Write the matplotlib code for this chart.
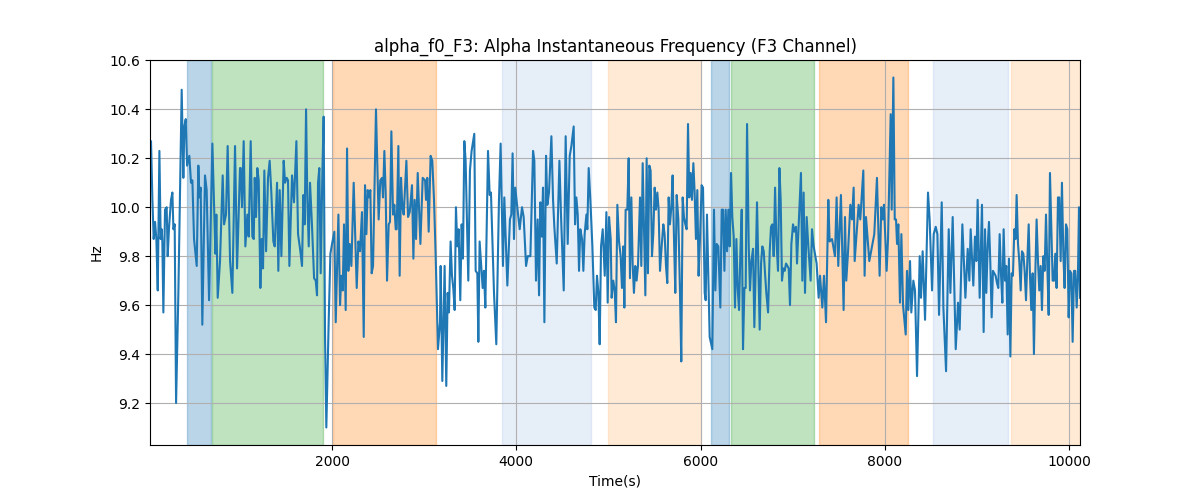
import numpy as np
import matplotlib
matplotlib.use("Agg")
import matplotlib.pyplot as plt

# time (s) and instantaneous alpha frequency (Hz)
time_s = [
    24, 35, 50, 64, 79, 93, 108, 126, 140, 151, 158, 169, 187, 205, 216, 231, 252, 267, 278, 292,
    307, 332, 368, 386, 397, 412, 426, 451, 469, 484, 502, 531, 549, 560, 574, 592, 621, 639, 665, 701,
    723, 734, 744, 759, 784, 813, 828, 849, 867, 893, 918, 947, 969,
    1001, 1009, 1023, 1041, 1059, 1081, 1095, 1117, 1135, 1150, 1161, 1175, 1189, 1204, 1222, 1236, 1251, 1265, 1284, 1305,
    1323, 1341, 1363, 1378, 1403, 1417, 1432, 1450, 1475, 1490, 1508, 1522, 1537, 1566, 1587, 1613, 1631, 1653, 1674, 1689,
    1703, 1718, 1732, 1747, 1761, 1783, 1805, 1823, 1837, 1848, 1862, 1877, 1895, 1909, 1924, 1938, 1964, 1982,
    2000, 2025, 2040, 2069, 2087, 2101, 2116, 2130, 2148, 2163, 2177, 2192, 2210, 2235, 2268, 2286, 2304, 2325, 2344, 2358,
    2373, 2387, 2401, 2416, 2430, 2445, 2477, 2506, 2524, 2543, 2553, 2568, 2582, 2597, 2615, 2629, 2644, 2662, 2676, 2691,
    2702, 2720, 2734, 2749, 2763, 2778, 2807, 2825, 2843, 2868, 2883, 2897, 2912, 2930, 2959, 2984,
    3010, 3020, 3034, 3049, 3070, 3088, 3107, 3125, 3150, 3172, 3179, 3197, 3222, 3240, 3255, 3269, 3287, 3302, 3316, 3331,
    3345, 3360, 3374, 3392, 3407, 3421, 3436, 3450, 3479, 3497, 3515, 3544, 3559, 3577, 3588, 3602, 3620, 3635, 3649, 3664,
    3693, 3711, 3725, 3758, 3783, 3812, 3830, 3855, 3870, 3903, 3931, 3946, 3960, 3975, 3989,
    4008, 4037, 4062, 4080, 4106, 4124, 4153, 4182, 4196, 4214, 4232, 4247, 4261, 4276, 4290, 4305, 4323, 4337, 4355, 4381,
    4399, 4413, 4439, 4468, 4486, 4515, 4536, 4558, 4580, 4598, 4623, 4638, 4652, 4667, 4681, 4695, 4714, 4728, 4742, 4761,
    4771, 4786, 4804, 4826, 4847, 4862, 4876, 4891, 4905, 4920, 4938, 4960, 4978, 4992, 5007,
    5025, 5035, 5053, 5068, 5082, 5097, 5115, 5133, 5147, 5162, 5173, 5187, 5205, 5220, 5234, 5249, 5263, 5277, 5292, 5306,
    5321, 5343, 5357, 5372, 5386, 5401, 5415, 5429, 5444, 5458, 5473, 5487, 5502, 5516, 5531, 5545, 5560, 5578, 5596, 5610,
    5625, 5639, 5654, 5668, 5683, 5697, 5712, 5726, 5741, 5759, 5777, 5791, 5806, 5820, 5835, 5849, 5864, 5878, 5893, 5907,
    5922, 5936, 5950, 5965, 5979, 5994, 6012,
    6027, 6045, 6056, 6070, 6085, 6099, 6128, 6146, 6161, 6175, 6193, 6215, 6230, 6244, 6259, 6273, 6288, 6302, 6316, 6331,
    6345, 6360, 6374, 6389, 6403, 6418, 6432, 6447, 6461, 6476, 6490, 6505, 6523, 6537, 6552, 6570, 6584, 6599, 6613, 6628,
    6642, 6657, 6671, 6686, 6700, 6714, 6733, 6751, 6765, 6780, 6794, 6809, 6823, 6841, 6856, 6870, 6884, 6899, 6913, 6928,
    6942, 6957, 6971, 6986, 7004, 7018,
    7036, 7047, 7090, 7105, 7119, 7134, 7152, 7170, 7195, 7210, 7228, 7246, 7260, 7282, 7297, 7322, 7340, 7362, 7387, 7401,
    7427, 7459, 7477, 7495, 7524, 7553, 7568, 7582, 7600, 7626, 7644, 7662, 7673, 7716, 7734, 7767, 7781, 7796, 7832, 7861,
    7886, 7915, 7944, 7962, 7977, 7991, 8020, 8035,
    8064, 8075, 8093, 8108, 8122, 8133, 8147, 8165, 8180, 8198, 8227, 8241, 8256, 8274, 8288, 8310, 8328, 8350, 8379, 8393,
    8411, 8437, 8469, 8487, 8513, 8531, 8553, 8571, 8589, 8618, 8636, 8665, 8694, 8712, 8737, 8770, 8795, 8813, 8842, 8875,
    8900, 8918, 8932, 8961, 8979, 8994, 9008, 9030,
    9055, 9073, 9088, 9102, 9117, 9131, 9145, 9160, 9174, 9189, 9203, 9218, 9232, 9247, 9261, 9276, 9290, 9305, 9319, 9334,
    9348, 9363, 9377, 9391, 9406, 9420, 9431, 9446, 9460, 9475, 9489, 9504, 9518, 9533, 9547, 9562, 9576, 9590, 9605, 9619,
    9634, 9648, 9663, 9677, 9692, 9706, 9721, 9735, 9750, 9764, 9779, 9793, 9808, 9822, 9837, 9851, 9865, 9880, 9894, 9909,
    9923, 9938, 9952, 9967, 9981, 9996, 10010, 10025, 10039, 10054, 10068, 10083, 10097, 10108, 10119,
]

freq_hz = [
    10.26, 10.27, 10.03, 9.87, 9.94, 9.87, 9.66, 10.23, 9.87, 9.91, 9.86, 9.57, 9.99, 10.00, 9.80, 9.92, 10.03, 10.06, 9.91, 9.93,
    9.20, 9.65, 10.48, 10.12, 10.33, 10.36, 10.17, 10.21, 10.10, 10.11, 9.87, 9.76, 10.17, 10.04, 10.08, 9.52, 10.13, 10.07, 9.62, 10.26,
    9.97, 9.81, 9.97, 9.63, 9.78, 10.13, 9.93, 9.97, 10.25, 9.78, 9.65, 10.25, 9.75,
    10.16, 10.16, 10.00, 10.27, 9.84, 9.97, 9.88, 10.27, 9.88, 9.87, 10.12, 9.96, 10.16, 10.11, 9.67, 9.87, 9.75, 10.15, 9.82, 10.12,
    10.19, 10.06, 9.86, 9.84, 10.10, 9.74, 10.07, 9.80, 10.19, 10.10, 10.12, 10.11, 9.76, 10.13, 10.02, 10.27, 9.89, 9.83, 9.76, 10.05,
    9.93, 10.40, 10.03, 9.84, 10.10, 9.92, 9.71, 9.70, 9.64, 10.10, 10.16, 9.73, 10.14, 10.37, 9.47, 9.10, 9.54, 9.81,
    9.85, 9.90, 9.53, 9.97, 9.60, 9.72, 9.66, 9.93, 9.58, 10.24, 9.74, 9.85, 9.76, 10.10, 9.67, 9.86, 9.82, 9.98, 9.47, 10.09,
    9.89, 10.07, 10.04, 10.07, 9.73, 9.76, 10.40, 9.95, 10.11, 10.12, 10.04, 10.23, 10.06, 9.70, 9.93, 9.94, 10.31, 9.97, 10.01, 9.91,
    9.91, 10.25, 9.72, 10.12, 10.00, 9.97, 10.19, 9.96, 9.98, 10.09, 9.79, 10.03, 9.87, 10.14, 9.85, 10.12,
    10.11, 10.03, 10.12, 9.90, 10.21, 10.19, 10.03, 9.80, 9.42, 9.53, 9.76, 9.29, 9.76, 9.27, 9.65, 9.57, 9.86, 9.72, 9.67, 9.58,
    10.00, 9.84, 9.91, 9.62, 9.93, 9.79, 10.27, 10.19, 9.70, 10.15, 10.23, 10.30, 9.74, 9.73, 9.45, 9.86, 9.76, 9.67, 9.74, 9.59,
    10.23, 10.05, 10.06, 9.65, 9.44, 10.03, 10.26, 9.76, 10.04, 9.68, 9.95, 9.97, 10.22, 9.87, 10.08,
    10.01, 9.91, 10.00, 9.96, 9.76, 9.80, 9.80, 10.23, 10.19, 9.70, 9.95, 9.64, 10.02, 9.88, 10.08, 9.53, 10.21, 10.01, 10.06, 10.29,
    10.03, 9.92, 9.77, 10.19, 9.96, 9.66, 10.29, 9.85, 10.21, 10.25, 10.33, 9.93, 10.04, 9.97, 9.74, 9.91, 9.87, 9.74, 9.89, 9.97,
    9.91, 10.16, 10.03, 9.84, 9.59, 9.58, 9.72, 9.65, 9.44, 9.84, 9.91, 9.72, 9.98, 9.61, 9.96,
    9.87, 9.63, 9.70, 9.66, 9.53, 10.01, 9.86, 9.80, 9.67, 9.84, 9.59, 9.99, 9.99, 10.20, 9.71, 10.04, 9.77, 9.65, 9.76, 9.70,
    9.76, 10.04, 9.76, 10.18, 9.92, 9.64, 10.20, 9.73, 10.17, 10.15, 9.80, 9.89, 10.08, 9.99, 10.06, 9.99, 9.74, 9.84, 9.93, 9.89,
    9.76, 9.69, 10.04, 9.93, 10.00, 10.13, 9.87, 9.65, 10.05, 9.95, 9.65, 9.37, 10.04, 9.96, 9.93, 9.91, 10.34, 10.04, 10.14, 10.03,
    10.18, 10.06, 9.87, 10.07, 9.72, 9.87, 10.09,
    10.08, 9.65, 9.62, 9.97, 9.72, 9.47, 9.42, 9.99, 9.66, 9.85, 9.84, 9.59, 9.99, 9.99, 9.74, 9.99, 9.82, 9.99, 9.84, 10.14,
    9.96, 9.88, 9.59, 9.87, 9.67, 9.58, 9.81, 9.99, 9.42, 9.67, 9.67, 10.34, 9.84, 9.66, 9.78, 9.83, 9.51, 9.76, 10.02, 9.76,
    9.50, 9.77, 9.84, 9.82, 9.73, 9.65, 9.57, 9.82, 9.92, 9.93, 9.80, 10.08, 9.87, 9.74, 10.16, 10.03, 9.70, 9.75, 9.74, 9.77,
    9.76, 9.75, 9.60, 9.85, 9.93, 9.90,
    9.92, 9.77, 10.14, 9.70, 10.06, 9.65, 9.96, 9.84, 9.70, 9.91, 9.84, 9.80, 9.77, 9.63, 9.72, 9.59, 9.72, 9.53, 10.03, 9.86,
    9.87, 9.80, 10.04, 9.76, 10.05, 9.58, 9.96, 9.70, 9.81, 10.01, 9.95, 10.08, 9.78, 10.01, 9.95, 10.15, 9.72, 9.96, 9.78, 9.84,
    9.89, 10.12, 9.72, 10.00, 9.95, 10.01, 9.74, 9.87,
    10.38, 9.99, 10.53, 9.95, 9.95, 9.85, 9.93, 9.61, 9.89, 9.60, 9.48, 9.74, 9.58, 9.78, 9.57, 9.70, 9.66, 9.31, 9.80, 9.63,
    9.82, 9.54, 10.06, 9.95, 9.66, 9.89, 9.92, 9.89, 9.56, 10.02, 9.59, 9.33, 9.91, 9.65, 9.96, 9.42, 9.61, 9.50, 9.93, 9.63,
    9.83, 9.70, 9.91, 9.68, 9.88, 9.78, 10.03, 9.63,
    10.01, 9.49, 9.91, 9.65, 9.84, 9.94, 9.78, 9.55, 9.74, 9.73, 9.72, 9.69, 9.67, 9.89, 9.73, 9.61, 9.91, 9.70, 9.76, 9.48,
    9.79, 9.39, 9.73, 9.72, 9.91, 9.87, 10.05, 9.85, 9.78, 9.66, 9.82, 9.81, 9.74, 9.62, 9.78, 9.93, 9.72, 9.58, 9.73, 9.40,
    9.73, 9.95, 9.78, 9.66, 9.76, 9.58, 9.80, 9.74, 9.97, 9.76, 9.56, 10.14, 9.92, 9.70, 9.70, 9.81, 9.67, 10.04, 10.04, 9.78,
    10.10, 9.81, 9.67, 9.93, 9.91, 9.55, 9.74, 9.73, 9.45, 9.74, 9.74, 9.59, 9.73, 10.00, 9.63,
]

# shaded task segments (start, end, colour)
seg_start = [426, 698, 2013, 3848, 5000, 6116, 6333, 7288, 8525, 9373]
seg_end = [687, 1905, 3132, 4812, 6007, 6311, 7234, 8254, 9340, 10120]
seg_color = ["#1f77b4", "#2ca02c", "#ff7f0e", "#aec7e8", "#ffbb78",
             "#1f77b4", "#2ca02c", "#ff7f0e", "#aec7e8", "#ffbb78"]

fig, ax = plt.subplots(figsize=(12, 5), dpi=100)

for s, e, c in zip(seg_start, seg_end, seg_color):
    ax.axvspan(s, e, color=c, alpha=0.3)

ax.plot(time_s, freq_hz, color="#1f77b4", linewidth=1.5)

ax.set_xlim(time_s[0], time_s[-1])
ax.set_title("alpha_f0_F3: Alpha Instantaneous Frequency (F3 Channel)")
ax.set_xlabel("Time(s)")
ax.set_ylabel("Hz")
ax.grid(True)

fig.savefig("out.png")
